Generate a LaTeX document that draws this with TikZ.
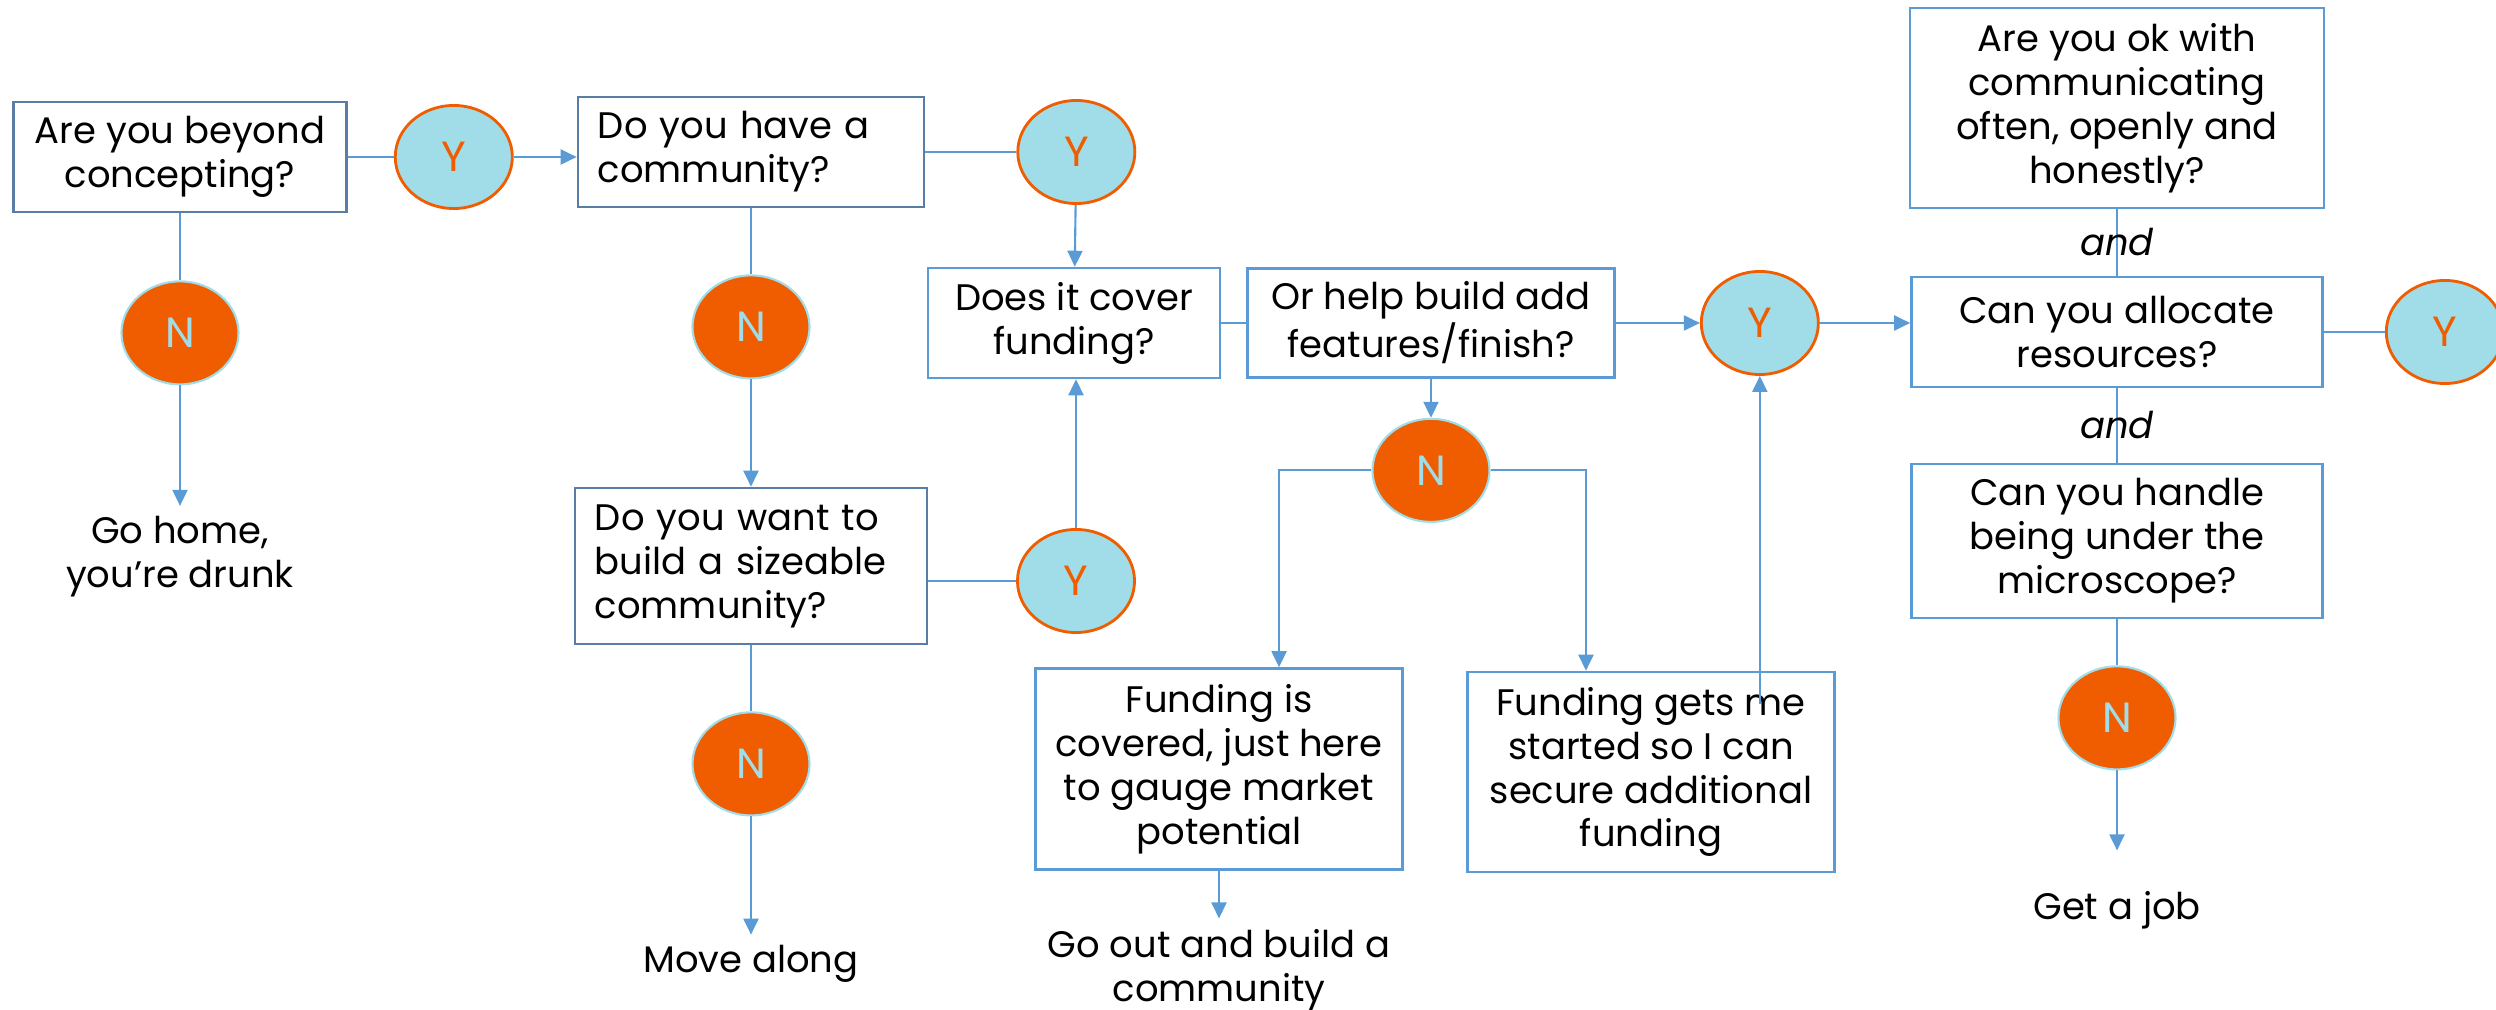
\documentclass[tikz,border=0pt]{standalone}
\usepackage{fontspec}
\setmainfont{Poppins}
\usetikzlibrary{positioning}
\usetikzlibrary{arrows.meta}
\usetikzlibrary{shapes.geometric}
\definecolor{connblue}{HTML}{5B9BD5}
\definecolor{slateblue}{HTML}{5A7DA5}
\definecolor{yesfill}{HTML}{A1DDE8}
\definecolor{nofill}{HTML}{EF5D00}
\def\connwidth{0.6pt}
\tikzset{
qbox/.style 2 args={draw=connblue, line width=0.7pt, minimum width=#1, minimum height=#2,
	inner xsep=0.2cm, inner ysep=0.08cm, align=center, font=\fontsize{10.5}{12.5}\selectfont},
dark/.style={draw=slateblue},
yesnode/.style={ellipse, draw=nofill, line width=0.8pt, fill=yesfill, text=nofill,
	minimum width=1.17cm, minimum height=1.03cm, inner sep=0pt, font=\fontsize{12}{14}\selectfont},
nonode/.style={ellipse, draw=yesfill, line width=0.6pt, fill=nofill, text=yesfill,
	minimum width=1.17cm, minimum height=1.03cm, inner sep=0pt, font=\fontsize{12}{14}\selectfont},
endtext/.style={align=center, inner sep=0.1cm, font=\fontsize{10.5}{12.5}\selectfont},
andtext/.style={inner sep=0pt, font=\fontsize{10.5}{12.5}\selectfont\itshape},
conn/.style={draw=connblue, line width=\connwidth},
arr/.style={conn, -{Triangle[length=0.16cm,width=0.15cm]}},
}

\begin{document}
\begin{tikzpicture}[x=0.01cm, y=-0.01cm]
\useasboundingbox (0,0) rectangle (2496,1010);
%Place the questions
\node[qbox={3.33cm}{1.10cm}, dark] (q1) at (180,157) {Are you beyond\\concepting?};
\node[qbox={3.46cm}{1.10cm}, dark, text width=3.06cm, align=left] (q2) at (751,152) {Do you have a\\community?};
\node[qbox={3.52cm}{1.56cm}, dark, text width=3.12cm, align=left] (q5) at (751,566) {Do you want to\\build a sizeable\\community?};
\node[qbox={2.92cm}{1.10cm}] (q3) at (1074,323) {Does it cover\\funding?};
\node[qbox={3.67cm}{1.09cm}] (q4) at (1431,323) {Or help build add\\features/finish?};
\node[qbox={3.66cm}{2.01cm}] (f1) at (1219,769) {Funding is\\covered, just here\\to gauge market\\potential};
\node[qbox={3.67cm}{2.00cm}] (f2) at (1651,772) {Funding gets me\\started so I can\\secure additional\\funding};
\node[qbox={4.14cm}{2.00cm}] (r1) at (2117,108) {Are you ok with\\communicating\\often, openly and\\honestly?};
\node[qbox={4.11cm}{1.10cm}] (r2) at (2117,332) {Can you allocate\\resources?};
\node[qbox={4.11cm}{1.54cm}] (r3) at (2117,541) {Can you handle\\being under the\\microscope?};

%Place the answers
\node[yesnode, right=0.46cm of q1] (y1) {Y};
\node[nonode, below=0.67cm of q1] (n1) {N};
\node[yesnode, right=0.91cm of q2] (y2) {Y};
\node[nonode, below=0.66cm of q2] (n2) {N};
\node[nonode, below=0.66cm of q5] (n5) {N};
\node[yesnode] (y5) at (1076,581) {Y};
\node[nonode, below=0.39cm of q4] (n3) {N};
\node[yesnode, right=0.84cm of q4] (y3) {Y};
\node[yesnode, right=0.61cm of r2] (y4) {Y};
\node[nonode, below=0.46cm of r3] (n4) {N};

%Where it ends
\node[endtext] (home) at (180,557) {Go home,\\you’re drunk};
\node[endtext] (along) at (751,964) {Move along};
\node[endtext] (goout) at (1219,970) {Go out and build a\\community};
\node[endtext] (job) at (2117,910) {Get a job};

%Connect
\draw[conn] (q1) to (y1);
\draw[arr] (y1.east) to (y1.east -| q2.west);
\draw[conn] (q1) to (n1);
\draw[arr] (n1) to (home);

\draw[conn] (q2) to (y2);
\draw[conn] (q2) to (n2);
\draw[arr] (n2) to (q5);
\draw[arr] (y2) to (q3);

\draw[conn] (q5.east |- y5) to (y5);
\draw[arr] (y5.north) to (y5.north |- q3.south);
\draw[conn] (q5) to (n5);
\draw[arr] (n5) to (along);

\draw[conn] (q3) to (q4);
\draw[arr] (q4) to (y3);
\draw[arr] (y3.east) to (y3.east -| r2.west);
\draw[arr] (q4) to (n3);
\draw[arr] (n3.west) -| ([xshift=0.6cm]f1.north);
\draw[arr] (n3.east) -| ([xshift=-0.65cm]f2.north);
\path (f2.north -| y3) ++(0,33) coordinate (f2in);
\draw[arr] (f2in) to (y3);
\draw[arr] (f1) to (goout);

\draw[conn] (r1) to node[andtext] {and} (r2);
\draw[conn] (r2) to node[andtext] {and} (r3);
\draw[conn] (r2) to (y4);
\draw[conn] (r3) to (n4);
\draw[arr, shorten >=0.3cm] (n4) to (job);

\end{tikzpicture}
\end{document}
